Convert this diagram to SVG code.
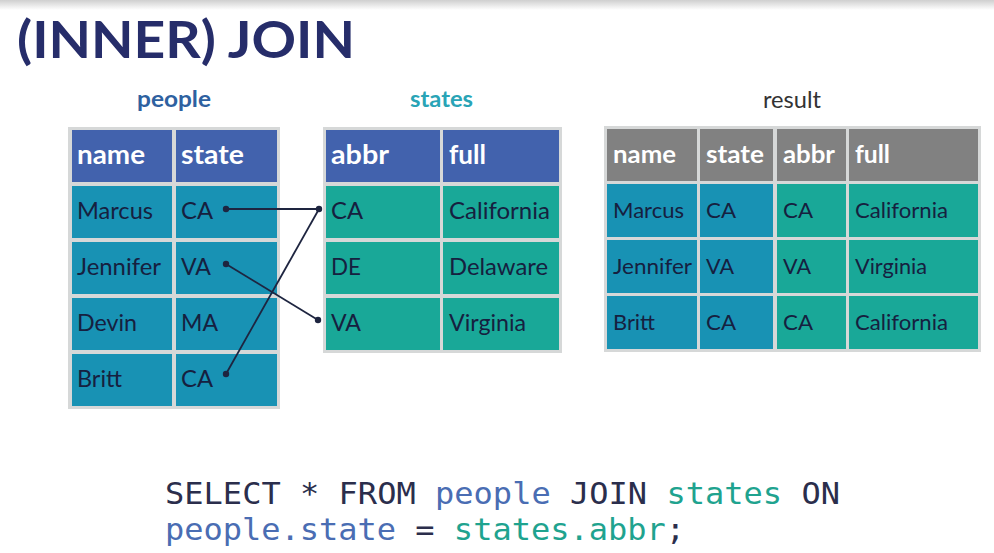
<svg xmlns="http://www.w3.org/2000/svg" width="994" height="553" viewBox="0 0 994 553">
<defs>
<linearGradient id="topShade" x1="0" y1="0" x2="0" y2="1">
<stop offset="0" stop-color="#cfcfcf"/>
<stop offset="1" stop-color="#ffffff"/>
</linearGradient>
</defs>
<style>
.frame{fill:#d6d8d8}
.hb{fill:#4262ad}
.hg{fill:#818181}
.cp{fill:#1892b4}
.cs{fill:#19a898}
.ht{font-family:Lato,"Open Sans",sans-serif;font-weight:bold;font-size:26px;fill:#ffffff}
.ct{font-family:Lato,"Open Sans",sans-serif;font-size:23px;fill:#16203f}
.rh{font-family:Lato,"Open Sans",sans-serif;font-weight:bold;font-size:25px;fill:#ffffff}
.rt{font-family:Lato,"Open Sans",sans-serif;font-size:22px;fill:#16203f}
.lbl{font-family:Lato,"Open Sans",sans-serif;font-weight:bold;font-size:23px}
.lbr{font-family:Lato,"Open Sans",sans-serif;font-weight:normal;font-size:23px;fill:#333333}
.code{font-family:"DejaVu Sans Mono","Liberation Mono",monospace;font-size:30px}
.link{stroke:#1e2540;stroke-width:1.8;fill:none}
.dot{fill:#1e2540}
</style>
<rect x="0" y="0" width="994" height="553" fill="#ffffff"/>
<rect x="0" y="0" width="994" height="10" fill="url(#topShade)"/>

<text x="17" y="58" font-family="Lato,'Open Sans',sans-serif" font-weight="bold" font-size="51" fill="#262d6a" textLength="338" lengthAdjust="spacingAndGlyphs">(INNER) JOIN</text>

<text class="lbl" x="137" y="107" fill="#2e61a0" textLength="74" lengthAdjust="spacingAndGlyphs">people</text>
<text class="lbl" x="410" y="107" fill="#29a4b6" textLength="63" lengthAdjust="spacingAndGlyphs">states</text>
<text class="lbr" x="763" y="108" textLength="58" lengthAdjust="spacingAndGlyphs">result</text>

<g id="people">
<rect class="frame" x="68" y="127" width="212" height="282"/>
<rect class="hb" x="72" y="130" width="100" height="52"/>
<rect class="hb" x="176" y="130" width="101" height="52"/>
<rect class="cp" x="72" y="186" width="100" height="52"/>
<rect class="cp" x="176" y="186" width="101" height="52"/>
<rect class="cp" x="72" y="242" width="100" height="52"/>
<rect class="cp" x="176" y="242" width="101" height="52"/>
<rect class="cp" x="72" y="298" width="100" height="52"/>
<rect class="cp" x="176" y="298" width="101" height="52"/>
<rect class="cp" x="72" y="354" width="100" height="52"/>
<rect class="cp" x="176" y="354" width="101" height="52"/>
<text class="ht" x="77" y="164" textLength="68" lengthAdjust="spacingAndGlyphs">name</text>
<text class="ht" x="181" y="164" textLength="63" lengthAdjust="spacingAndGlyphs">state</text>
<text class="ct" x="77" y="219" textLength="76" lengthAdjust="spacingAndGlyphs">Marcus</text>
<text class="ct" x="181" y="219" textLength="32" lengthAdjust="spacingAndGlyphs">CA</text>
<text class="ct" x="77" y="275" textLength="84" lengthAdjust="spacingAndGlyphs">Jennifer</text>
<text class="ct" x="181" y="275" textLength="30" lengthAdjust="spacingAndGlyphs">VA</text>
<text class="ct" x="77" y="331" textLength="60" lengthAdjust="spacingAndGlyphs">Devin</text>
<text class="ct" x="181" y="331" textLength="37" lengthAdjust="spacingAndGlyphs">MA</text>
<text class="ct" x="77" y="387" textLength="45" lengthAdjust="spacingAndGlyphs">Britt</text>
<text class="ct" x="181" y="387" textLength="32" lengthAdjust="spacingAndGlyphs">CA</text>
</g>

<g id="states">
<rect class="frame" x="323" y="127" width="239" height="226"/>
<rect class="hb" x="326" y="130" width="114" height="52"/>
<rect class="hb" x="443" y="130" width="116" height="52"/>
<rect class="cs" x="326" y="186" width="114" height="52"/>
<rect class="cs" x="443" y="186" width="116" height="52"/>
<rect class="cs" x="326" y="242" width="114" height="52"/>
<rect class="cs" x="443" y="242" width="116" height="52"/>
<rect class="cs" x="326" y="298" width="114" height="52"/>
<rect class="cs" x="443" y="298" width="116" height="52"/>
<text class="ht" x="331" y="164" textLength="58" lengthAdjust="spacingAndGlyphs">abbr</text>
<text class="ht" x="449" y="164" textLength="37" lengthAdjust="spacingAndGlyphs">full</text>
<text class="ct" x="331" y="219" textLength="32" lengthAdjust="spacingAndGlyphs">CA</text>
<text class="ct" x="449" y="219" textLength="101" lengthAdjust="spacingAndGlyphs">California</text>
<text class="ct" x="331" y="275" textLength="30" lengthAdjust="spacingAndGlyphs">DE</text>
<text class="ct" x="449" y="275" textLength="99" lengthAdjust="spacingAndGlyphs">Delaware</text>
<text class="ct" x="331" y="331" textLength="30" lengthAdjust="spacingAndGlyphs">VA</text>
<text class="ct" x="449" y="331" textLength="77" lengthAdjust="spacingAndGlyphs">Virginia</text>
</g>

<g id="result">
<rect class="frame" x="604" y="126" width="377" height="226"/>
<rect class="hg" x="607" y="129" width="90" height="52"/>
<rect class="hg" x="700" y="129" width="73" height="52"/>
<rect class="hg" x="777" y="129" width="69" height="52"/>
<rect class="hg" x="849" y="129" width="129" height="52"/>
<rect class="cp" x="607" y="184" width="90" height="53"/>
<rect class="cp" x="700" y="184" width="73" height="53"/>
<rect class="cs" x="777" y="184" width="69" height="53"/>
<rect class="cs" x="849" y="184" width="129" height="53"/>
<rect class="cp" x="607" y="240" width="90" height="53"/>
<rect class="cp" x="700" y="240" width="73" height="53"/>
<rect class="cs" x="777" y="240" width="69" height="53"/>
<rect class="cs" x="849" y="240" width="129" height="53"/>
<rect class="cp" x="607" y="296" width="90" height="53"/>
<rect class="cp" x="700" y="296" width="73" height="53"/>
<rect class="cs" x="777" y="296" width="69" height="53"/>
<rect class="cs" x="849" y="296" width="129" height="53"/>
<text class="rh" x="613" y="163" textLength="63" lengthAdjust="spacingAndGlyphs">name</text>
<text class="rh" x="706" y="163" textLength="58" lengthAdjust="spacingAndGlyphs">state</text>
<text class="rh" x="783" y="163" textLength="52" lengthAdjust="spacingAndGlyphs">abbr</text>
<text class="rh" x="855" y="163" textLength="35" lengthAdjust="spacingAndGlyphs">full</text>
<text class="rt" x="613" y="218" textLength="71" lengthAdjust="spacingAndGlyphs">Marcus</text>
<text class="rt" x="706" y="218" textLength="30" lengthAdjust="spacingAndGlyphs">CA</text>
<text class="rt" x="783" y="218" textLength="30" lengthAdjust="spacingAndGlyphs">CA</text>
<text class="rt" x="855" y="218" textLength="93" lengthAdjust="spacingAndGlyphs">California</text>
<text class="rt" x="613" y="274" textLength="79" lengthAdjust="spacingAndGlyphs">Jennifer</text>
<text class="rt" x="706" y="274" textLength="28" lengthAdjust="spacingAndGlyphs">VA</text>
<text class="rt" x="783" y="274" textLength="28" lengthAdjust="spacingAndGlyphs">VA</text>
<text class="rt" x="855" y="274" textLength="72" lengthAdjust="spacingAndGlyphs">Virginia</text>
<text class="rt" x="613" y="330" textLength="42" lengthAdjust="spacingAndGlyphs">Britt</text>
<text class="rt" x="706" y="330" textLength="30" lengthAdjust="spacingAndGlyphs">CA</text>
<text class="rt" x="783" y="330" textLength="30" lengthAdjust="spacingAndGlyphs">CA</text>
<text class="rt" x="855" y="330" textLength="93" lengthAdjust="spacingAndGlyphs">California</text>
</g>

<g id="connectors">
<line class="link" x1="226" y1="209" x2="319" y2="209"/>
<line class="link" x1="226" y1="264" x2="318" y2="320"/>
<line class="link" x1="226" y1="374" x2="319" y2="209"/>
<circle class="dot" cx="226" cy="209" r="3.2"/>
<circle class="dot" cx="319" cy="209" r="3.2"/>
<circle class="dot" cx="226" cy="264" r="3.2"/>
<circle class="dot" cx="318" cy="320" r="3.2"/>
<circle class="dot" cx="226" cy="374" r="3.2"/>
</g>

<g id="sql">
<text class="code" x="165" y="504" textLength="675" lengthAdjust="spacingAndGlyphs"><tspan fill="#2b2e4c">SELECT * FROM </tspan><tspan fill="#4a6db3">people</tspan><tspan fill="#2b2e4c"> JOIN </tspan><tspan fill="#1fa38f">states</tspan><tspan fill="#2b2e4c"> ON</tspan></text>
<text class="code" x="165" y="540" textLength="520" lengthAdjust="spacingAndGlyphs"><tspan fill="#4a6db3">people.state</tspan><tspan fill="#2b2e4c"> = </tspan><tspan fill="#1fa38f">states.abbr</tspan><tspan fill="#2b2e4c">;</tspan></text>
</g>
</svg>
